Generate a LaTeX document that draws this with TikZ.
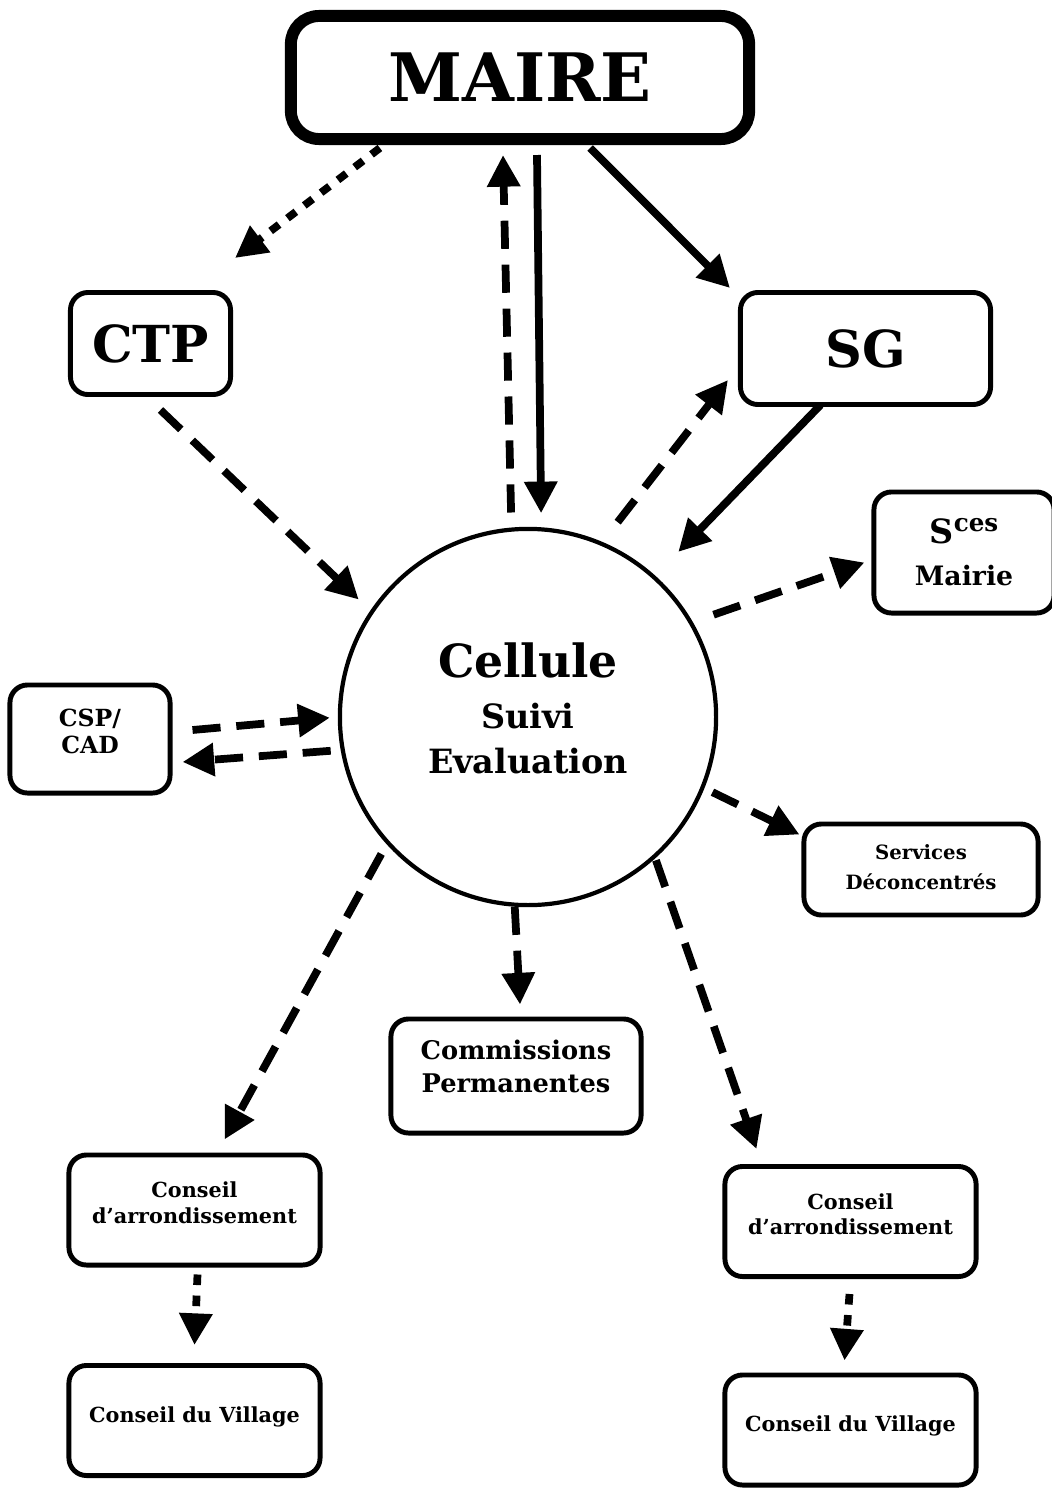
\documentclass[tikz,border=0pt]{standalone}
\usepackage{fontspec}
\setmainfont{DejaVu Serif}
\usetikzlibrary{arrows.meta,calc}

\begin{document}
\begin{tikzpicture}[x=0.01cm, y=-0.01cm,
	mairebox/.style={rectangle, draw, line width=3.4pt, rounded corners=8pt, minimum width=4.58cm, minimum height=1.23cm, font=\bfseries\fontsize{19}{22}\selectfont},
	unitbox/.style={rectangle, draw, line width=1.4pt, rounded corners=5pt, align=center, inner sep=0pt},
	bigbox/.style={unitbox, font=\bfseries\fontsize{14.5}{17}\selectfont},
	conseil/.style={unitbox, minimum width=2.51cm, minimum height=1.10cm, font=\bfseries\fontsize{5.9}{7.2}\selectfont},
	cellule/.style={circle, draw, line width=1.2pt, minimum size=3.76cm, align=center, inner sep=0pt, font=\bfseries\fontsize{9.5}{12.8}\selectfont},
	arrow/.style={-{Triangle[length=9pt,width=9pt]}, line width=2.2pt},
	dashedarrow/.style={arrow, dash pattern=on 8pt off 4.5pt},
	dottedarrow/.style={arrow, dash pattern=on 3pt off 3pt},
	]
	\useasboundingbox (0,0) rectangle (1052,1488);
	% Mayor and direct staff
	\node[mairebox] (maire) at (520,77.5) {MAIRE};
	\node[bigbox, minimum width=1.60cm, minimum height=1.02cm] (ctp) at (150.5,343.5) {CTP};
	\node[bigbox, minimum width=2.50cm, minimum height=1.12cm] (sg) at (865.5,348.5) {SG};
	% Central cell
	\node[cellule] (cell) at (528,717) {{\fontsize{13}{16}\selectfont Cellule}\\[1.7pt] Suivi\\ Evaluation\\[-7.7pt]};
	% Surrounding units
	\node[unitbox, minimum width=1.80cm, minimum height=1.21cm, font=\bfseries\fontsize{7.6}{12}\selectfont] (sces) at (964,552.5)
	{{\fontsize{9.5}{12}\selectfont S}\raisebox{3.4pt}{\fontsize{7}{8}\selectfont ces}\\ Mairie};
	\node[unitbox, minimum width=1.60cm, minimum height=1.08cm, font=\bfseries\fontsize{6.7}{7.7}\selectfont] (csp) at (90,739) {CSP/\\ CAD\\[-3.1pt]};
	\node[unitbox, minimum width=2.34cm, minimum height=0.91cm, font=\bfseries\fontsize{5.6}{8.4}\selectfont] (serv) at (921,869.5) {Services\\ Déconcentrés\\[-7pt]};
	\node[unitbox, minimum width=2.50cm, minimum height=1.14cm, font=\bfseries\fontsize{7.3}{9.4}\selectfont] (comm) at (516,1076) {Commissions\\ Permanentes\\[-3.8pt]};
	% Councils
	\node[conseil] (arrL) at (194.5,1210) {Conseil\\ d’arrondissement\\[-3pt]};
	\node[conseil] (villL) at (194.5,1420.5) {Conseil du Village\\[-3.8pt]};
	\node[conseil] (arrR) at (850.5,1221.5) {Conseil\\ d’arrondissement\\[-3pt]};
	\node[conseil] (villR) at (850.5,1430) {Conseil du Village\\[-3.8pt]};

	% Links with the mayor
	\draw[dottedarrow] ($(maire.south west)+(95,3)$) -- ($(ctp.north east)+(2,-32)$);
	\draw[dashedarrow, shorten <=0.15cm] (cell.95) -- ($(maire.south)+(-17,10)$);
	\draw[arrow, shorten >=0.14cm] ($(maire.south)+(17,10)$) -- (cell.86.6);
	\draw[arrow] ($(maire.south east)+(-165,3)$) -- ($(sg.north west)+(-8,-2)$);

	% Links with CTP and SG
	\draw[dashedarrow, shorten >=0.16cm] ($(ctp.south)+(10,13)$) -- (cell.146.8);
	\draw[dashedarrow, shorten <=0.25cm] (cell.67.4) -- ($(sg.south west)+(-10,-27)$);
	\draw[arrow, shorten >=0.33cm] ($(sg.south)+(-45,-2)$) -- (cell.48.3);

	% Cell towards the services
	\draw[dashedarrow, shorten <=0.22cm] (cell.30) -- ($(sces.west)+(-7,10)$);
	\draw[dashedarrow, shorten >=0.08cm] ($(csp.east)+(20,-9)$) -- (cell.180);
	\draw[dashedarrow, shorten <=0.10cm] (cell.190.4) -- ($(csp.east)+(10,23)$);
	\draw[dashedarrow, shorten <=0.09cm] (cell.-22.4) -- ($(serv.north west)+(-2,13)$);
	\draw[dashedarrow] (cell.-94) -- ($(comm.north)+(4,-12)$);

	% Cell towards the councils
	\draw[dashedarrow, shorten <=0.11cm] (cell.222) -- ($(arrL.north)+(30,-13)$);
	\draw[dashedarrow, shorten <=0.02cm] (cell.-48) -- ($(arrR.north)+(-94,-15)$);
	\draw[dottedarrow] ($(arrL.south)+(3,7)$) -- ($(villL.north)+(0,-18)$);
	\draw[dottedarrow] ($(arrR.south)+(-1,15)$) -- ($(villR.north)+(-6,-12)$);
\end{tikzpicture}
\end{document}
